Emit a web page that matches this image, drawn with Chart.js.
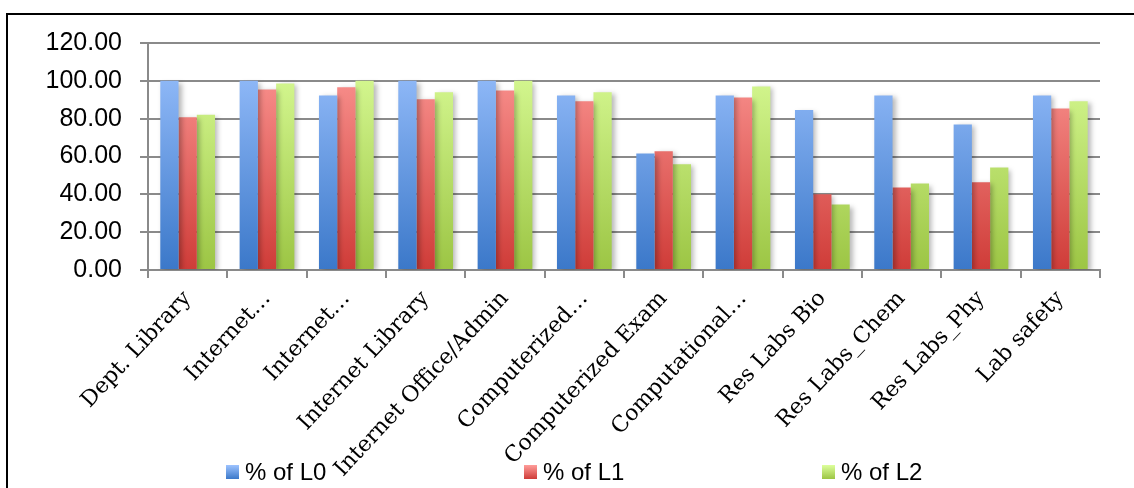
<!DOCTYPE html>
<html>
<head>
<meta charset="utf-8">
<script src="https://cdn.jsdelivr.net/npm/chart.js@4.4.1/dist/chart.umd.min.js"></script>
<style>
  html, body { margin: 0; padding: 0; background: #fff; overflow: hidden; }
  #frame {
    position: absolute; left: 6px; top: 13px; width: 1140px; height: 500px;
    border: 2px solid #000; box-sizing: border-box;
  }
  #chart { position: absolute; left: 0; top: 0; }
</style>
</head>
<body>
<div id="frame"></div>
<canvas id="chart" width="1134" height="488"></canvas>
<script>
// categories and series
const categories = [
  'Dept. Library', 'Internet\u2026', 'Internet\u2026', 'Internet Library',
  'Internet Office/Admin', 'Computerized\u2026', 'Computerized Exam',
  'Computational\u2026', 'Res Labs Bio', 'Res Labs_Chem', 'Res Labs_Phy', 'Lab safety'
];
const seriesNames = ['% of L0', '% of L1', '% of L2'];
const l0 = [100, 100, 92.31, 100, 100, 92.31, 61.54, 92.31, 84.62, 92.31, 76.92, 92.31];
const l1 = [80.77, 95.45, 96.55, 90.24, 94.87, 89.19, 62.79, 91.18, 40.00, 43.59, 46.34, 85.37];
const l2 = [82.05, 98.65, 100, 93.94, 100, 93.94, 55.88, 97.06, 34.62, 45.71, 54.17, 89.19];
const yTicks = { min: 0, max: 120, step: 20 };

// gradient colours (bottom, top) per series
const shades = [
  ['#3b78c9', '#9dc3ff'],
  ['#cf3c38', '#ff9d9a'],
  ['#9cc544', '#ddff9c']
];

function barGradient(i) {
  return (c) => {
    const area = c.chart.chartArea;
    if (!area) return shades[i][1];
    const g = c.chart.ctx.createLinearGradient(0, area.bottom, 0, area.top);
    g.addColorStop(0, shades[i][0]);
    g.addColorStop(1, shades[i][1]);
    return g;
  };
}

// soft drop shadow behind the bars, like the office chart
const barShadow = {
  id: 'barShadow',
  beforeDatasetsDraw(chart) {
    const ctx = chart.ctx;
    ctx.save();
    ctx.shadowColor = 'rgba(0,0,0,0.28)';
    ctx.shadowBlur = 5;
    ctx.shadowOffsetX = 3;
    ctx.shadowOffsetY = 2;
  },
  afterDatasetsDraw(chart) {
    chart.ctx.restore();
  }
};

// legend spread along the bottom edge
const spreadLegend = {
  id: 'spreadLegend',
  afterDraw(chart) {
    const ctx = chart.ctx;
    const y = 472;
    ctx.save();
    chart.data.datasets.forEach((ds, i) => {
      const x = 226 + i * 298;
      const g = ctx.createLinearGradient(0, y + 7, 0, y - 7);
      g.addColorStop(0, shades[i][0]);
      g.addColorStop(1, shades[i][1]);
      ctx.fillStyle = g;
      ctx.fillRect(x, y - 7, 13, 14);
      ctx.fillStyle = '#000';
      ctx.font = '24px "Liberation Sans", Arial, sans-serif';
      ctx.textBaseline = 'middle';
      ctx.textAlign = 'left';
      ctx.fillText(ds.label, x + 19, y + 1);
    });
    ctx.restore();
  }
};

const ctx = document.getElementById('chart').getContext('2d');
new Chart(ctx, {
  type: 'bar',
  data: {
    labels: categories,
    datasets: [l0, l1, l2].map((d, i) => ({
      label: seriesNames[i],
      data: d,
      backgroundColor: barGradient(i),
      borderWidth: 0,
      categoryPercentage: 0.69,
      barPercentage: 1.0
    }))
  },
  options: {
    responsive: false,
    animation: false,
    layout: { padding: { left: 8, right: 34, top: 43, bottom: 0 } },
    plugins: {
      legend: { display: false },
      tooltip: { enabled: false }
    },
    scales: {
      x: {
        offset: true,
        grid: {
          offset: true,
          drawOnChartArea: false,
          color: '#8a8a8a',
          lineWidth: 2,
          tickLength: 8
        },
        border: { color: '#8a8a8a', width: 2 },
        ticks: {
          autoSkip: false,
          minRotation: 47,
          maxRotation: 47,
          padding: 8,
          color: '#000',
          font: { family: '"DejaVu Serif", serif', size: 22 }
        },
        afterFit: (s) => { s.height = 218; }
      },
      y: {
        min: yTicks.min,
        max: yTicks.max,
        grid: {
          color: '#8a8a8a',
          lineWidth: 2,
          tickLength: 8
        },
        border: { color: '#8a8a8a', width: 2 },
        ticks: {
          stepSize: yTicks.step,
          padding: 18,
          color: '#000',
          font: { family: '"Liberation Sans", Arial, sans-serif', size: 25 },
          callback: (v) => v.toFixed(2)
        },
        afterFit: (s) => { s.width = 140; }
      }
    }
  },
  plugins: [barShadow, spreadLegend]
});
</script>
</body>
</html>
